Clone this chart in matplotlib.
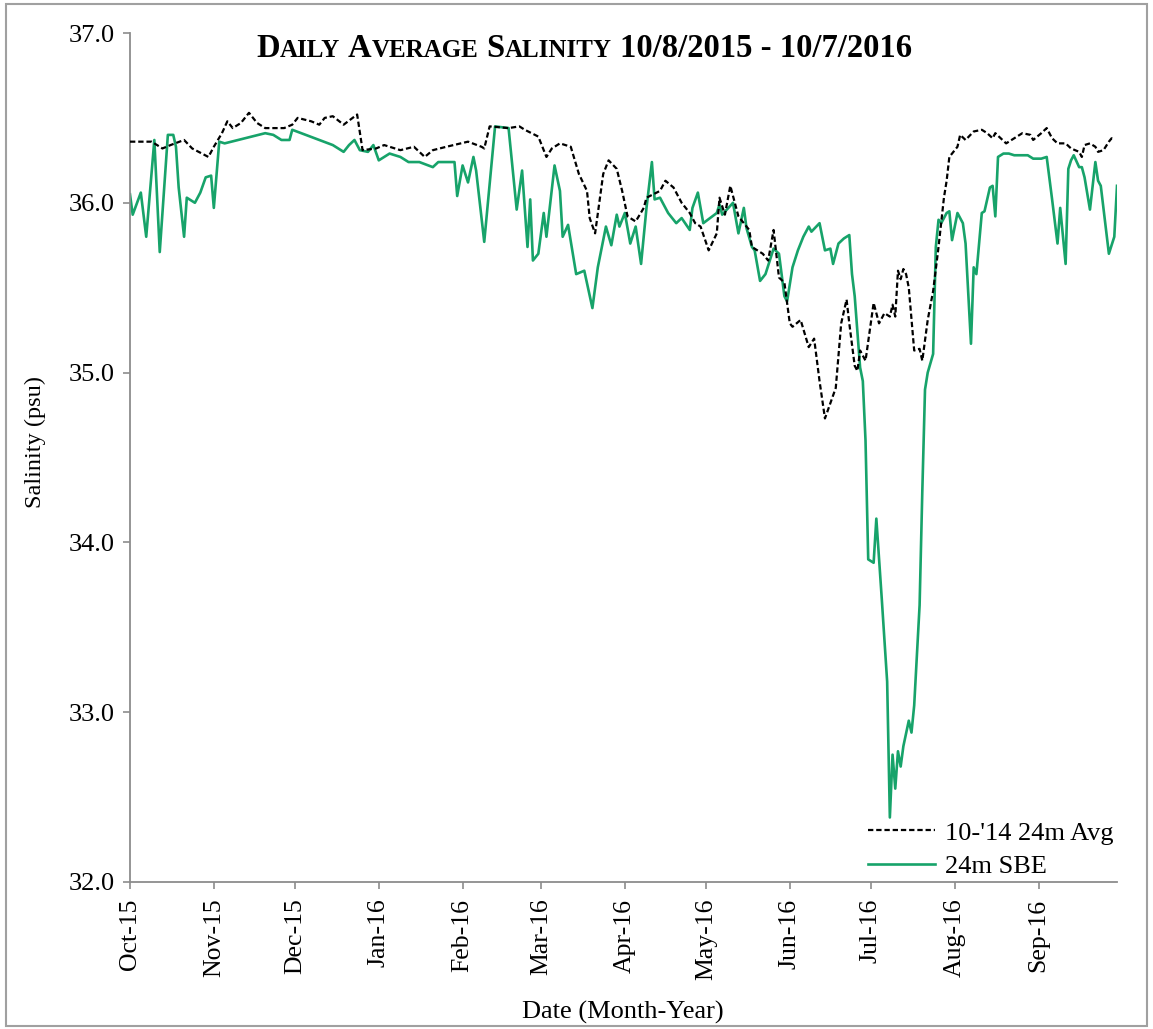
import matplotlib
matplotlib.use('Agg')
import matplotlib.pyplot as plt
import pandas as pd
from matplotlib.patches import Rectangle

START = pd.Timestamp('2015-10-08')
END_DAY = 365

# 10-'14 24m Avg (days since 10/8/2015, salinity psu)
avg_day = [0, 8, 12, 15, 20, 23, 29, 31, 34, 36, 38, 41, 44, 47, 50, 57, 60, 62, 67, 70,
           72, 75, 79, 84, 86, 91, 94, 100, 105, 109, 112, 117, 125, 130, 131, 133, 140, 144, 146, 151,
           154, 156, 159, 163, 166, 169, 170, 172, 175, 177, 180, 182, 184, 187, 190, 191, 196, 198, 201, 204,
           207, 209, 211, 214, 217, 218, 220, 222, 225, 227, 229, 230, 232, 234, 236, 238, 240, 242, 244, 245,
           248, 251, 253, 255, 257, 259, 261, 263, 265, 266, 268, 269, 270, 272, 275, 277, 279, 281, 282, 283,
           284, 285, 286, 287, 288, 290, 292, 293, 295, 297, 299, 301, 302, 303, 306, 307, 309, 312, 315, 317,
           319, 320, 324, 327, 330, 333, 334, 337, 339, 341, 343, 346, 348, 351, 352, 353, 355, 357, 358, 360,
           362, 363, 364]
avg_val = [36.36, 36.36, 36.32, 36.34, 36.37, 36.32, 36.27, 36.33, 36.41, 36.48, 36.44, 36.47, 36.53, 36.47, 36.44, 36.44, 36.46, 36.50, 36.48, 36.46,
           36.50, 36.51, 36.46, 36.52, 36.31, 36.32, 36.34, 36.31, 36.33, 36.27, 36.31, 36.33, 36.36, 36.33, 36.32, 36.45, 36.44, 36.45, 36.43, 36.39,
           36.27, 36.32, 36.35, 36.33, 36.17, 36.07, 35.91, 35.82, 36.17, 36.25, 36.20, 36.07, 35.92, 35.89, 35.97, 36.03, 36.07, 36.13, 36.09, 36.00,
           35.94, 35.88, 35.86, 35.72, 35.82, 36.03, 35.93, 36.10, 35.92, 35.88, 35.84, 35.74, 35.72, 35.70, 35.66, 35.84, 35.56, 35.53, 35.29, 35.27,
           35.31, 35.15, 35.20, 34.95, 34.73, 34.82, 34.91, 35.29, 35.43, 35.29, 35.04, 35.01, 35.13, 35.07, 35.41, 35.29, 35.35, 35.33, 35.40, 35.33,
           35.60, 35.55, 35.61, 35.58, 35.50, 35.13, 35.14, 35.07, 35.31, 35.48, 35.74, 36.03, 36.13, 36.27, 36.33, 36.40, 36.37, 36.42, 36.43, 36.41,
           36.38, 36.41, 36.35, 36.38, 36.41, 36.40, 36.37, 36.41, 36.44, 36.38, 36.35, 36.35, 36.32, 36.30, 36.27, 36.34, 36.35, 36.33, 36.30, 36.31,
           36.36, 36.38, 36.37]

# 24m SBE (days since 10/8/2015, salinity psu)
sbe_day = [0, 1, 4, 6, 9, 11, 14, 16, 17, 18, 20, 21, 24, 26, 28, 30, 31, 33, 35, 40,
           45, 50, 53, 56, 59, 60, 65, 70, 75, 79, 81, 83, 85, 88, 90, 92, 96, 100, 103, 107,
           112, 114, 120, 121, 123, 125, 127, 128, 131, 135, 140, 143, 145, 147, 148, 149, 151, 153, 154, 157,
           159, 160, 162, 165, 168, 171, 173, 176, 178, 180, 181, 183, 185, 187, 189, 191, 193, 194, 196, 199,
           202, 204, 207, 208, 210, 212, 217, 218, 219, 223, 225, 227, 228, 230, 231, 233, 235, 238, 240, 242,
           243, 245, 247, 249, 251, 252, 255, 257, 259, 260, 262, 264, 266, 267, 268, 270, 271, 272, 273, 275,
           276, 278, 280, 281, 282, 283, 284, 285, 286, 288, 289, 290, 292, 293, 294, 295, 297, 298, 299, 300,
           302, 303, 304, 306, 308, 309, 311, 312, 313, 315, 316, 318, 319, 320, 321, 323, 325,
           327, 330, 332, 334, 337, 339, 341, 343, 344, 346, 347, 348, 349, 351, 352, 353, 355, 357, 358, 359,
           362, 364, 365]
sbe_val = [36.05, 35.93, 36.06, 35.80, 36.37, 35.71, 36.40, 36.40, 36.33, 36.09, 35.80, 36.03, 36.00, 36.06, 36.15, 36.16, 35.97, 36.36, 36.35, 36.37,
           36.39, 36.41, 36.40, 36.37, 36.37, 36.43, 36.40, 36.37, 36.34, 36.30, 36.34, 36.37, 36.31, 36.30, 36.34, 36.25, 36.29, 36.27, 36.24, 36.24,
           36.21, 36.24, 36.24, 36.04, 36.22, 36.12, 36.27, 36.19, 35.77, 36.45, 36.44, 35.96, 36.19, 35.74, 36.02, 35.66, 35.70, 35.94, 35.80, 36.22,
           36.07, 35.80, 35.87, 35.58, 35.60, 35.38, 35.62, 35.86, 35.75, 35.93, 35.86, 35.94, 35.76, 35.86, 35.64, 35.97, 36.24, 36.02, 36.03, 35.94,
           35.88, 35.91, 35.84, 35.97, 36.06, 35.88, 35.94, 35.99, 35.93, 36.00, 35.82, 35.97, 35.85, 35.74, 35.72, 35.54, 35.58, 35.73, 35.70, 35.45,
           35.42, 35.62, 35.72, 35.80, 35.86, 35.83, 35.88, 35.72, 35.73, 35.64, 35.76, 35.79, 35.81, 35.58, 35.45, 35.03, 34.95, 34.60, 33.90, 33.88,
           34.14, 33.67, 33.18, 32.38, 32.75, 32.55, 32.77, 32.68, 32.80, 32.95, 32.88, 33.04, 33.63, 34.30, 34.90, 35.00, 35.11, 35.74, 35.90, 35.88,
           35.94, 35.95, 35.78, 35.94, 35.88, 35.76, 35.17, 35.62, 35.58, 35.94, 35.95, 36.09, 36.10, 35.92, 36.27, 36.29, 36.29,
           36.28, 36.28, 36.28, 36.26, 36.26, 36.27, 36.02, 35.76, 35.97, 35.64, 36.20, 36.25, 36.28, 36.21, 36.21, 36.15, 35.96, 36.24, 36.13, 36.10,
           35.70, 35.80, 36.10]

tick_labels = ['Oct-15', 'Nov-15', 'Dec-15', 'Jan-16', 'Feb-16', 'Mar-16',
               'Apr-16', 'May-16', 'Jun-16', 'Jul-16', 'Aug-16', 'Sep-16']
y_ticks = [32.0, 33.0, 34.0, 35.0, 36.0, 37.0]

plt.rcParams['font.family'] = ['Liberation Serif', 'DejaVu Serif']

W, H = 1153, 1029
fig = plt.figure(figsize=(W / 100, H / 100), dpi=100)
fig.patch.set_facecolor('white')
L, R, T, B = 130, 1117, 33, 882
ax = fig.add_axes([L / W, 1 - B / H, (R - L) / W, (B - T) / H])

avg_dates = START + pd.to_timedelta(avg_day, unit='D')
sbe_dates = START + pd.to_timedelta(sbe_day, unit='D')

ax.plot(avg_dates, avg_val, color='black', lw=1.6, ls=(0, (2.4, 1.3)),
        label="10-'14 24m Avg", zorder=3)
ax.plot(sbe_dates, sbe_val, color='#17a36a', lw=1.9, label='24m SBE', zorder=2)

ax.set_xlim(START, START + pd.Timedelta(days=END_DAY))
ax.set_ylim(32, 37)
tick_dates = [START + pd.DateOffset(months=i) for i in range(len(tick_labels))]
ax.set_xticks(tick_dates)
ax.set_xticklabels(tick_labels, rotation=90, fontsize=18.5)
ax.set_yticks(y_ticks)
ax.set_yticklabels([f'{v:.1f}' for v in y_ticks], fontsize=19)

for s in ['top', 'right']:
    ax.spines[s].set_visible(False)
for s in ['left', 'bottom']:
    ax.spines[s].set_color('#8c8c8c')
    ax.spines[s].set_linewidth(1.3)
ax.tick_params(axis='both', direction='out', length=5, width=1.2, color='#8c8c8c')
ax.tick_params(axis='y', pad=6)
ax.tick_params(axis='x', pad=7)

fig.text(35 / W, 1 - 442 / H, 'Salinity (psu)', rotation=90, ha='center', va='center', fontsize=17.5)
fig.text(623 / W, 1 - 1012 / H, 'Date (Month-Year)', ha='center', va='center', fontsize=19)

leg = ax.legend(loc='lower right', bbox_to_anchor=(1.0, 0.0), frameon=False, fontsize=19,
                handlelength=2.55, handletextpad=0.35, labelspacing=0.38, borderaxespad=0.0,
                borderpad=0.15)

# small-caps title
big, small = 23.5, 18
parts = [('D', big), ('AILY', small), (' ', big), ('A', big), ('VERAGE', small), (' ', big),
         ('S', big), ('ALINITY', small), (' ', big), ('10/8/2015 - 10/7/2016', big)]
renderer = fig.canvas.get_renderer()
base_y = 1 - 57 / H
txts = []
for s, sz in parts:
    if s == ' ':
        txts.append((None, sz * 0.25 * 100 / 72))
        continue
    t = fig.text(0, base_y, s, fontsize=sz, fontweight='bold', ha='left', va='baseline')
    txts.append((t, t.get_window_extent(renderer).width))
total = sum(w for _, w in txts)
x = 584 - total / 2
for t, w in txts:
    if t is not None:
        t.set_x(x / W)
    x += w

fig.patches.append(Rectangle((6 / W, 1 - 1026 / H), (1147 - 6) / W, (1026 - 4) / H,
                             transform=fig.transFigure, fill=False, edgecolor='#a0a0a0', lw=1.5))

fig.savefig('out.png', dpi=100)
